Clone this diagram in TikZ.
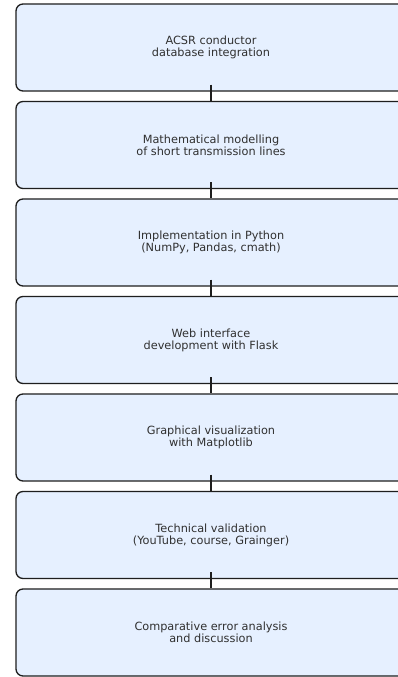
\documentclass[tikz,border=0pt]{standalone}
\usepackage{fontspec}
\setmainfont{DejaVu Sans}
\usepackage{tikz}
\definecolor{stepfill}{HTML}{E6F0FF}
\definecolor{stepline}{HTML}{1E1E1E}
\definecolor{steptext}{HTML}{303030}
\begin{document}
\begin{tikzpicture}[x = 1pt, y = 1pt,
    stepbox/.style = {draw = stepline, fill = stepfill, line width = 1.3pt, rounded corners = 7pt,
        minimum width = 390pt, minimum height = 87pt, align = center, text = steptext,
        font = \fontsize{11.3}{11.8}\selectfont},
    link/.style = {draw = stepline, line width = 1.1pt}]
    \useasboundingbox (0, 0) rectangle (398, 677);
    \clip (0, 0) rectangle (398, 677);
    \fill [white] (0, 0) rectangle (398, 677);
    \node [stepbox] (acsr) at (211, 629.5) {ACSR conductor\\database integration};
    \node [stepbox] (model) at (211, 532) {Mathematical modelling\\of short transmission lines};
    \node [stepbox] (python) at (211, 434.5) {Implementation in Python\\(NumPy, Pandas, cmath)};
    \node [stepbox] (flask) at (211, 337) {Web interface\\development with Flask};
    \node [stepbox] (plots) at (211, 239.5) {Graphical visualization\\with Matplotlib};
    \node [stepbox] (valid) at (211, 142) {Technical validation\\(YouTube, course, Grainger)};
    \node [stepbox] (error) at (211, 44.5) {Comparative error analysis\\and discussion};
    \draw [link] ([yshift = 7pt] acsr.south) -- (model.north);
    \draw [link] ([yshift = 7pt] model.south) -- (python.north);
    \draw [link] ([yshift = 7pt] python.south) -- (flask.north);
    \draw [link] ([yshift = 7pt] flask.south) -- (plots.north);
    \draw [link] ([yshift = 7pt] plots.south) -- (valid.north);
    \draw [link] ([yshift = 7pt] valid.south) -- (error.north);
\end{tikzpicture}
\end{document}
